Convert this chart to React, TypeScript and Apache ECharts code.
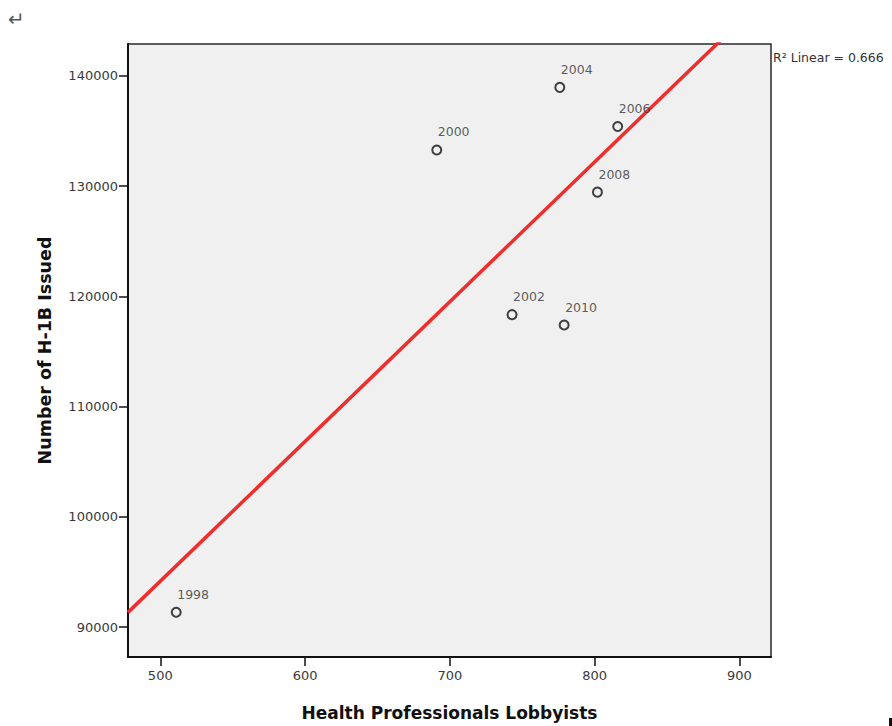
import React, { useEffect, useRef } from "react";
import * as echarts from "echarts";

// ---- data ----
const years = ["1998", "2000", "2002", "2004", "2006", "2008", "2010"];
const lobbyists = [511, 691, 743, 776, 816, 802, 779];
const h1bIssued = [91360, 133290, 118352, 138965, 135421, 129464, 117409];

const xTicks = [500, 600, 700, 800, 900];
const yTicks = [90000, 100000, 110000, 120000, 130000, 140000];
const xRange = [477.7, 921.9];
const yRange = [87300, 142900];

const xTitle = "Health Professionals Lobbyists";
const yTitle = "Number of H-1B Issued";

function linearFit(xs: number[], ys: number[]) {
  const n = xs.length;
  const mx = xs.reduce((a, b) => a + b, 0) / n;
  const my = ys.reduce((a, b) => a + b, 0) / n;
  let sxx = 0, sxy = 0, syy = 0;
  for (let i = 0; i < n; i++) {
    sxx += (xs[i] - mx) ** 2;
    sxy += (xs[i] - mx) * (ys[i] - my);
    syy += (ys[i] - my) ** 2;
  }
  const slope = sxy / sxx;
  const intercept = my - slope * mx;
  const r2 = (sxy * sxy) / (sxx * syy);
  return { slope, intercept, r2 };
}

export default function App() {
  const ref = useRef<HTMLDivElement>(null);
  useEffect(() => {
    if (!ref.current) return;
    const chart = echarts.init(ref.current, null, { renderer: "svg" });
    const fit = linearFit(lobbyists, h1bIssued);
    const fitLine = xRange.map((x) => [x, fit.intercept + fit.slope * x]);
    const points = lobbyists.map((x, i) => [x, h1bIssued[i], years[i]]);
    const tickFont = { fontFamily: "DejaVu Sans", fontSize: 13, color: "#3a3a3a" };

    chart.setOption({
      animation: false,
      backgroundColor: "#ffffff",
      grid: {
        left: 128,
        right: 121,
        top: 44,
        bottom: 67,
        show: true,
        backgroundColor: "#f0f0f0",
        borderColor: "#2a2a2a",
        borderWidth: 1.5,
      },
      xAxis: {
        type: "value",
        min: xRange[0],
        max: xRange[1],
        name: xTitle,
        nameLocation: "middle",
        nameGap: 47,
        nameTextStyle: { fontFamily: "DejaVu Sans", fontWeight: "bold", fontSize: 17, color: "#111" },
        axisLine: { show: true, onZero: false, lineStyle: { color: "#111", width: 2 } },
        axisTick: { show: true, length: 9, customValues: xTicks, lineStyle: { color: "#111", width: 1.5 } },
        axisLabel: { ...tickFont, margin: 12, customValues: xTicks, formatter: (v: number) => String(v) },
        splitLine: { show: false },
      },
      yAxis: {
        type: "value",
        min: yRange[0],
        max: yRange[1],
        name: yTitle,
        nameLocation: "middle",
        nameGap: 74,
        nameRotate: 90,
        nameTextStyle: { fontFamily: "DejaVu Sans", fontWeight: "bold", fontSize: 17.5, color: "#111" },
        axisLine: { show: true, onZero: false, lineStyle: { color: "#111", width: 2 } },
        axisTick: { show: true, length: 9, customValues: yTicks, lineStyle: { color: "#111", width: 1.5 } },
        axisLabel: { ...tickFont, margin: 10, customValues: yTicks, formatter: (v: number) => String(v) },
        splitLine: { show: false },
      },
      series: [
        {
          type: "line",
          data: fitLine,
          symbol: "none",
          clip: true,
          lineStyle: { color: "#ee2d2d", width: 3.5 },
          z: 2,
        },
        {
          type: "scatter",
          data: points,
          symbol: "circle",
          symbolSize: 9,
          itemStyle: { color: "rgba(0,0,0,0)", borderColor: "#111", borderWidth: 2 },
          label: {
            show: true,
            position: [6.5, -19],
            align: "left",
            verticalAlign: "top",
            formatter: (p: any) => p.value[2],
            fontFamily: "DejaVu Sans",
            fontSize: 12.5,
            color: "#333",
          },
          z: 3,
        },
      ],
      graphic: [
        {
          type: "text",
          left: 773,
          top: 51,
          style: {
            text: "R\u00B2 Linear = " + fit.r2.toFixed(3),
            fontFamily: "DejaVu Sans",
            fontSize: 12.5,
            fill: "#333",
          },
        },
        {
          type: "text",
          left: 8,
          top: 9,
          style: { text: "\u21B5", fontFamily: "DejaVu Sans", fontSize: 20, fill: "#555" },
        },
        {
          type: "rect",
          shape: { x: 889, y: 718, width: 3, height: 8 },
          style: { fill: "#111" },
        },
      ],
    });
    return () => chart.dispose();
  }, []);
  return (
    <div
      ref={ref}
      style={{ position: "absolute", left: 0, top: 0, width: 892, height: 726 }}
    />
  );
}
